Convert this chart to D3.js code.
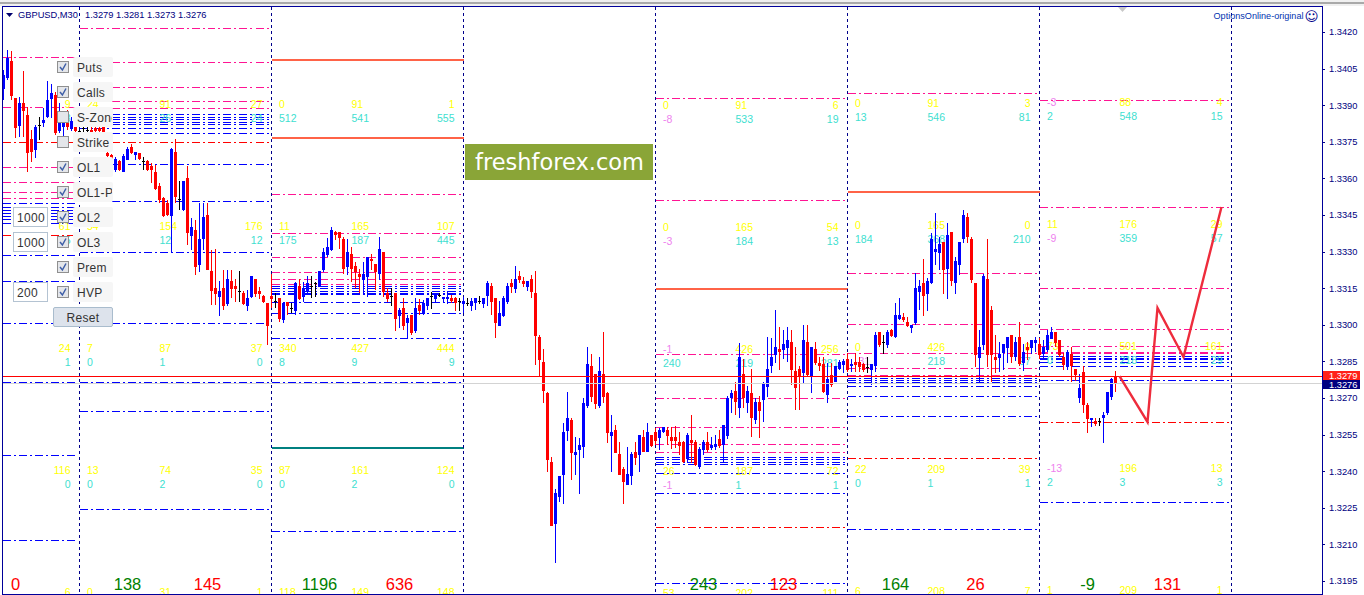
<!DOCTYPE html>
<html><head><meta charset="utf-8">
<script src="https://cdn.jsdelivr.net/npm/d3@7"></script>
<style>html,body{margin:0;padding:0;background:#fff;overflow:hidden}svg{display:block}</style>
</head><body><div id="chart"></div>
<script>
// All prices are in points above 1.3000 (1 point = 0.0001). Candles are [open, high, low, close].
const candlesFri=[[396.5,404.4,392.1,402.4],[401,412.6,400.3,409.2],[408.1,412.2,392.1,393.9],[393.1,393.1,376.4,380.8],[381.5,393.5,377.1,390.8],[390.8,404.1,377.1,387.6],[386,389.4,362.7,370.3],[376,379.8,366.8,370.5],[371.6,381.9,368.2,380.9],[381.9,385.3,375.7,381.9],[382.6,388.7,381.2,383.9],[385,399.9,384.6,392.1],[392.5,398.5,384.6,394.8],[394.2,395.5,377.8,378.7],[379.4,390.8,378.5,382.8],[381,385,377,383.5],[383,388,380,381],[380.5,385,379.5,383.7],[381.2,381.5,378,379.6]];
const candlesMon=[[379.5,380,378,379.5],[380.5,382,378.5,380.5],[380,382,378,380],[380,381,379,379.3],[380.8,381.5,378,379.4],[380.8,381.2,378,379.5],[381.2,381.5,376,379.1],[370.6,375,368.5,369.3],[369.6,370,361,363.4],[363.4,368.9,362.7,367.8],[367.1,367.5,363,363.4],[362.7,369.9,362.7,369.2],[367.5,373,367.5,372],[373,374.1,370,370.5],[369.6,370.9,367.5,370.7],[370.3,370.6,367.5,367.8],[367.1,368.9,363.4,367.1],[367.1,367.5,363,363.4],[365.2,366.2,358,363.4],[362.7,365.5,355.2,355.9],[356.9,358,349.8,351.1],[351.8,352.5,344,344.3],[350,351,344.5,345],[344.7,372.5,329.7,372],[370.9,376,350,352.5],[351.4,358.9,347,351.4],[347,358.9,346.5,358.9],[360.3,365.1,332.7,337.9],[336.5,343.6,330.6,340],[338.9,343,320.4,323.8],[324.5,349.8,321.8,335.2],[335.2,349.8,330.6,344.3],[345,349.8,322.5,322.5],[322,330.6,308.1,313.6],[315,330.9,308.1,312.6],[311.5,317.9,303.6,313.9],[315,322.5,306,307.7],[308.5,322.5,307.7,318.6],[317.9,322.5,310.9,314.7],[315.9,318.6,309.5,314.7],[313.9,322,309.5,313.9],[312.9,313.9,308.1,308.4],[307.7,314.3,305.8,310.9],[311.3,320,310.9,320],[318.8,318.8,311.3,312.6],[313.9,315.6,310.4,312.6],[311.8,312.2,309,309.5],[308.8,308.8,291.7,299.5]];
const candlesTue=[[311.8,320.8,306.8,310.5],[309.8,312.9,306.8,309.8],[310.9,311,301.3,302.4],[301.7,308.8,300.9,308.8],[309.5,309.5,304,307.7],[306.8,308.8,304.7,306.8],[305.7,317.7,304,317],[315.9,318.6,310.1,310.4],[311.5,317.7,309.5,315],[313.6,320,312.2,317],[315.9,320,310.9,315.9],[317,317.7,311.5,317],[315.6,322,315.3,322],[322.5,331.3,321.8,330],[328.6,335.4,327.7,331.7],[330.6,340,330.4,338.9],[337.9,338.6,334.8,336.5],[337.9,338.2,331,335.4],[335,335.9,320.8,322.7],[323.8,335,320.4,330],[329,332,317.7,322.7],[324.1,325.9,315,321.8],[320.8,322.7,312.9,319.7],[318.4,325.9,312.9,320.8],[319.7,327.9,311.5,327.9],[326.8,329,322.5,325.9],[324.9,325,314.3,321.5],[320.6,335.9,318.4,330.9],[330,330,311.5,313.6],[312.9,315,309.5,310.5],[311.8,315,307.7,311.8],[312.9,312.9,297.5,302.4],[303.7,306.8,298.8,306],[306.8,310.9,297.9,299.5],[300.7,304,294.7,302.8],[304,304,295.8,296.8],[297.5,310.9,296.8,306.8],[308.1,310.6,304,305.7],[304.4,310.1,304,308.8],[307.7,311.1,306,310.9],[311.8,313.6,306.5,311.8],[310.5,312.9,308.8,312.9],[312.2,313.2,311.5,312.2],[310.5,311.5,309.5,311.5],[310.5,314,308.5,311.5],[310.9,312.2,308.8,309.5],[310.9,311.2,305.7,308.8],[309.8,310.9,305.7,309.8]];
const candlesWed=[[308.5,311.5,304.7,309.8],[308.8,310.9,307.7,308.8],[307.7,310.9,305.7,309.8],[308.8,311.1,306,310.9],[309.9,311.8,308.4,309.9],[308.5,311.1,306.8,311.1],[311.5,317.9,307.7,317],[315.9,317,304,309.5],[310.9,310.9,294.7,300.6],[299.5,309.8,299.5,304.7],[303.8,311.8,303.3,311.1],[309.5,317,308.5,315.9],[317,318.8,312.9,315.4],[314.5,324.1,312.9,318.8],[320,322,317,318.4],[317.9,319.7,315.4,316.7],[315.4,317.9,313.9,317.9],[318.8,320.4,310.9,313.6],[312.9,322,283.5,295.4],[295.1,295.8,278.8,285.6],[284.6,290,268,272.6],[271.9,272.6,239.8,244.6],[243.9,245.9,217.5,217.5],[218.3,232.7,202.5,231.2],[229.5,238,227.5,238],[238.4,259.6,226.5,255.9],[256.4,272.6,252.5,261.6],[261,261.9,236.4,247.6],[246.6,254.1,238.4,248],[248.7,253.7,230.6,250.7],[249.6,269.9,245.5,267.8],[266.8,291,266,284],[283.1,288,268.5,270.5],[279.7,280,265.5,267.5],[266.7,286.6,265.7,281],[279.8,297.2,267.8,270.5],[272.2,272.5,251.7,255.8],[254.5,263,239.8,256.2],[256.9,258.9,247.3,247.6],[246.9,252,238.4,238.4],[240.9,241.8,226.5,235.4],[234.3,250,234.3,238.8],[237.7,248,234.3,246.9],[247.7,251.8,242.5,245.2],[246.6,254.8,239.8,254.8],[254.1,256.9,247.7,248],[247.7,259.6,247.7,255.9],[254.8,254.8,250,250.3]];
const candlesThu=[[255.9,257.5,250.7,252.4],[253.7,257.5,248.7,256.9],[255.8,258,255.5,258],[256.9,258,250.7,254.5],[254.1,258,249.3,252.4],[254.1,258.6,249.6,252.4],[252,255.9,246.6,250.4],[252,252.5,243.2,243.9],[245,255.5,243.5,254.8],[252.8,263,243.2,251.4],[252,252.8,242.2,242.5],[241.8,250,240.9,249.1],[248.7,252.8,246.5,252],[252,256.2,248,248.7],[249.3,254,248.5,250.7],[249.6,254.8,248.5,251],[253,257,249.5,250.3],[250.7,258.9,243.9,258.9],[254.1,271,253,269.8],[270.3,273.2,264,272.2],[273,276.7,263,268.5],[266,292.7,262,287],[280,286,266,270],[268,275,264,273],[272.2,282,254,262],[261,270,259.5,268.5],[268.5,271,253.7,265],[269.2,276.7,260.3,275.7],[274.6,295.2,270.5,281.9],[282.9,294.5,280.1,286.7],[287.6,306,284.2,290.9],[290,299.3,281.5,288.6],[289.7,297.9,285.9,292.1],[290.4,299.3,284.6,293.8],[292.8,297.9,275.3,281.5],[281,291,265,274],[282,283,265,279],[280.1,299.9,276,293.8],[292.8,299.9,278.7,279.4],[278.7,290.9,272,290.9],[290,293,283.5,284.2],[284.2,287,281,282.9],[283.9,287,272,272.6],[271.2,284.2,268,277.6],[279.4,284.2,274.7,275.3],[276.7,283.2,276.4,283.2],[282.2,285.6,281.5,284.9],[283.5,285.9,280.1,285.2]];
const candlesFri2=[[285.9,288.3,280.8,281.5],[282.9,285.9,280.8,283.9],[284.9,288.3,280.8,283.5],[284.9,287,280.8,282.9],[283.9,284.2,280.8,281.5],[282.9,286.7,280.1,282.9],[281.5,283.9,275.3,283.9],[282.9,297.2,280.8,295.8],[297,297,291,291.7],[292.8,295.8,287.9,292.8],[291.7,297.9,290.6,297],[297.9,298.1,295.1,295.4],[295,308.8,294.7,304],[302.4,310.9,302,304],[303,304.7,301,301.7],[301.3,303.3,299,299.5],[298.7,299.9,296.8,299.9],[300.6,321.1,299.9,315.1],[313.6,318.4,306,315.9],[317,326.8,303.6,311.5],[312.9,319,305.6,318.1],[317,337.5,316.7,335],[329.6,345.7,324.5,330.9],[329.6,336.1,322.5,333.1],[334,334,312.5,322.5],[322.7,341.6,310.6,336.8],[337.9,337.9,315.9,317.7],[317,327.9,312.5,326.2],[324.5,334,320.4,334],[335,347,333.4,345],[344,345.7,333.4,335.7],[335,335.9,317,318.4],[317,317.2,282.9,287.6],[286.5,297.9,276.7,290.9],[291.7,320.8,289.7,320],[318.8,335,282.9,287.6],[306,307.7,276.7,287.6],[286.9,295.8,280.1,285.6],[286.5,293,280.8,288],[288.3,292,281.5,292],[290.4,295.1,284.2,294.9],[295.8,295.8,284.2,286.7],[287,295,285,293],[295.1,301.3,283,284.2],[284.5,292,281,289],[291,293,285.6,289.7],[290.4,293.8,288,293.8],[292.7,295.1,289,293.8]];
const candlesMon2=[[292,294.5,286,287.6],[288.3,293.8,286.3,291],[289.7,297.9,288.8,295.8],[294.5,299.2,294,297.2],[296.9,297,291,292.4],[293.8,293.8,287,287.6],[286.9,288.3,281.5,283.5],[282.9,289.7,281.5,289],[288,291,276.7,282.9],[281.9,282,277,279.4],[270,280,268,274],[280.8,283,264,267.1],[267.1,267.8,255.8,261.4],[260.6,262,258.2,261.6],[260.5,261.6,258.6,259.2],[260.7,261.6,258.6,260.7],[261.6,264.4,251.7,263],[263.9,272.5,263,272.5],[270.4,278,269,277.8],[279,281,272.6,276]];

const forecastBars=[279,286,288.5,295,304.5];
const forecastPoints=[279,260.2,306.9,286.8,348.3];

const sessionBars=[[-29,19],[19,67],[67,115],[115,163],[163,211],[211,259],[259,307]];

const pinkLevels=[[409.7,389.3,364.7,358.5,354.4,352],[421.6,407.7,397.4,391.7,388.8],[353.6,337.6,327.8,321.6,318.7,316.7],[],[392.9,351.1,288,270,258.1,251.1,247.8],[395,321.2,300.3,288.4,282.3,279.4],[392.1,348.3,315.1,298.3,291.3,288.8,288.4]];
const blueLevels=[[349.9,348.3,347,345.8,344.6,343.3,341.7,328.6,317.9,300.7,276.5,246.6,211.8],[386.4,385.1,384.3,383.1,382.3,380.6,378.6,365.9,350.7,329.8,300.7,276.5,264.7,224.5],[315.9,315,313.8,313,312.6,309.3,304.8,294.6,276.5,215.5],[],[245.8,245,243.8,242.9,239.2,231,194.2],[278.2,277.3,276.5,274.9,270.8,262.6,216.3],[287.2,286.4,285.9,284.7,283.1,277.3,227.4]];
const redLevels=[[374.9,336.8],[374.9],[],[],[217.1],[245.4],[260.1]];
const tomatoLevels=[[],[],[408.9,377],[],[315.1],[354.8],[]];
const tealLevels=[[],[],[249.9],[],[],[],[]];

const strikes=[390,340,290,240,190];
const callsLeft=[null,[24,54,7,13,0],[0,11,340,87,118],null,[0,0,-1,26,53],[0,0,0,22,6],[-3,11,73,-13,1]];
const callsMid=[null,[91,154,87,74,31],[91,165,427,161,149],null,[91,165,426,187,202],[91,165,426,209,208],[88,176,501,196,209]];
const callsRight=[[9,61,24,116,6],[27,176,37,35,1],[1,107,444,124,148],null,[6,54,256,72,111],[3,0,0,39,7],[4,29,161,13,1]];
const putsLeft=[null,[null,null,0,0],[512,175,8,0],null,[-8,-3,240,-1],[13,184,-31,0],[2,-9,0,2]];
const putsMid=[null,[26,12,1,2],[541,187,9,2],null,[533,184,219,1],[546,368,218,1],[548,359,218,3]];
const putsRight=[[8,5,1,0],[24,12,0,0],[555,445,9,0],null,[19,13,281,1],[81,210,97,1],[15,57,29,3]];
const greenTotals=[null,"138","1196",null,"243","164","-9"];
const redTotals=["0","145","636",null,"123","26","131"];

const priceTicks=[1.3420,1.3405,1.3390,1.3375,1.3360,1.3345,1.3330,1.3315,1.3300,1.3285,1.3270,1.3255,1.3240,1.3225,1.3210,1.3195];
const askPrice=1.3279, bidPrice=1.3276;
const headerText="GBPUSD,M30", ohlcText="1.3279 1.3281 1.3273 1.3276";
const panelNames=["Puts","Calls","S-Zone","Strike","OL1","OL1-P","OL2","OL3","Prem","HVP"];
const panelChecked=[1,1,0,0,1,1,1,1,1,1];
const panelInputs=[["1000",6],["1000",7],["200",9]];

const W=1364,H=595;
const svg=d3.select("#chart").append("svg").attr("width",W).attr("height",H).attr("viewBox",[0,0,W,H]);
const x=d3.scaleLinear().domain([0,307]).range([3.5,1231.5]);
const y=d3.scaleLinear().domain([1.3195,1.3420]).range([581,32]);
const pr=p=>1.3+p/1e4;
const yr=p=>Math.round(y(pr(p)))+0.5;
const FONT="'Liberation Sans',Arial,sans-serif";

svg.append("rect").attr("width",W).attr("height",H).attr("fill","#fff");
// top chrome
svg.append("rect").attr("width",W).attr("height",6).attr("fill","#f0f0f0");
svg.append("rect").attr("y",2).attr("width",W).attr("height",2).attr("fill","#a9a9a9");

const clip=svg.append("defs");
clip.append("clipPath").attr("id","plot").append("rect").attr("x",3).attr("y",7).attr("width",1319).attr("height",587);
clip.append("clipPath").attr("id","lbl").append("rect").attr("x",73).attr("y",0).attr("width",39).attr("height",400);
const plot=svg.append("g").attr("clip-path","url(#plot)");

// session separators
const DAY="#00008b";
const levelG=plot.append("g").attr("shape-rendering","crispEdges");
function levels(list,i,color,w,dash,inset){
  const [a,b]=sessionBars[i];
  const x0=Math.max(x(a),3), x1=x(b)-inset;
  levelG.append("g").selectAll("line").data(list).join("line")
    .attr("x1",x0).attr("x2",x1).attr("y1",d=>yr(d)).attr("y2",d=>yr(d))
    .attr("stroke",color).attr("stroke-width",w).attr("stroke-dasharray",dash);
}
sessionBars.forEach((s,i)=>{
  levels(pinkLevels[i],i,"#ff1493",1,"8 3 2 3",3);
  levels(blueLevels[i],i,"#0000ff",1,"8 3 2 3",3);
  levels(redLevels[i],i,"#ff0000",1,"8 3 2 3",3);
  levels(tomatoLevels[i],i,"#ff6347",2,null,0);
  levels(tealLevels[i],i,"#008080",2,null,0);
});

// numbers at strikes
const textG=plot.append("g").attr("font-family",FONT).attr("font-size",10.5);
const dayShift=[0,0,0,0,1,-1,-2];
const numColor=(v,base)=>v<0?"#ee82ee":base;
function strikeText(values,i,xp,anchor,base,dy){
  if(!values) return;
  const rows=values.map((v,k)=>[v,k]).filter(d=>d[0]!==null);
  textG.append("g").selectAll("text").data(rows).join("text")
    .attr("x",xp).attr("y",d=>y(pr(strikes[d[1]]))+dy+dayShift[i])
    .attr("text-anchor",anchor).attr("fill",d=>numColor(d[0],base)).text(d=>d[0]);
}
sessionBars.forEach((s,i)=>{
  const x0=x(s[0])-0.5,x1=x(s[1])-0.5;
  strikeText(callsLeft[i],i,x0+8,"start","#ffff00",3);
  strikeText(callsMid[i],i,x0+80.5,"start","#ffff00",3);
  strikeText(callsRight[i],i,x1-8.5,"end","#ffff00",3);
  strikeText(putsLeft[i],i,x0+8,"start","#40e0d0",17);
  strikeText(putsMid[i],i,x0+80.5,"start","#40e0d0",17);
  strikeText(putsRight[i],i,x1-8.5,"end","#40e0d0",17);
  [[greenTotals[i],"#008000",48.5],[redTotals[i],"#ff0000",128.5]].forEach(([t,c,o])=>{
    if(t!==null) plot.append("text").attr("x",x0+o).attr("y",590).attr("text-anchor","middle")
      .attr("font-family",FONT).attr("font-size",16.5).attr("fill",c).text(t);
  });
});

// session lines
plot.append("g").attr("shape-rendering","crispEdges").selectAll("line").data(sessionBars.slice(1).map(d=>d[0]).concat([307])).join("line")
  .attr("x1",d=>x(d)).attr("x2",d=>x(d)).attr("y1",7).attr("y2",594)
  .attr("stroke",DAY).attr("stroke-width",1).attr("stroke-dasharray","3 3");

// candles
const candles=[].concat(candlesFri,candlesMon,candlesTue,candlesWed,candlesThu,candlesFri2,candlesMon2);
const cColor=d=>d[3]>d[0]?"#0000ff":d[3]<d[0]?"#ff0000":"#000000";
const cg=plot.append("g").attr("shape-rendering","crispEdges");
const cs=cg.selectAll("g").data(candles).join("g");
cs.append("line").attr("x1",(d,i)=>x(i)).attr("x2",(d,i)=>x(i))
  .attr("y1",d=>Math.round(y(pr(d[1])))).attr("y2",d=>Math.round(y(pr(d[2]))))
  .attr("stroke",cColor);
cs.append("rect").attr("x",(d,i)=>x(i)-1.5).attr("width",3)
  .attr("y",d=>Math.round(y(pr(Math.max(d[0],d[3])))))
  .attr("height",d=>d[0]===d[3]?1:Math.max(2,Math.round(Math.abs(y(pr(d[0]))-y(pr(d[3]))))))
  .attr("fill",cColor);

// current prices
plot.append("line").attr("x1",3).attr("x2",1322).attr("y1",Math.round(y(bidPrice))+0.5).attr("y2",Math.round(y(bidPrice))+0.5)
  .attr("stroke","#d3d3d3").attr("shape-rendering","crispEdges");
plot.append("line").attr("x1",3).attr("x2",1322).attr("y1",Math.round(y(askPrice))+0.5).attr("y2",Math.round(y(askPrice))+0.5)
  .attr("stroke","#ff0000").attr("shape-rendering","crispEdges");

// forecast
plot.append("path").datum(forecastBars.map((b,i)=>[b,forecastPoints[i]]))
  .attr("d",d3.line().x(d=>x(d[0])).y(d=>y(pr(d[1])))).attr("fill","none")
  .attr("stroke","#ee2c3c").attr("stroke-width",2.4);

// header
svg.append("path").attr("d","M6 13h7l-3.5 4z").attr("fill","#00006e");
const hdr=svg.append("g").attr("font-family",FONT).attr("font-size",9.3).attr("fill","#000080");
hdr.append("text").attr("x",18).attr("y",18).text(headerText);
hdr.append("text").attr("x",85).attr("y",18).attr("xml:space","preserve").text(ohlcText);
hdr.append("text").attr("x",1303.5).attr("y",19).attr("text-anchor","end").attr("fill","#0033b0").attr("font-size",9.1).text("OptionsOnline-original");
hdr.append("text").attr("x",1311.5).attr("y",20.5).attr("text-anchor","middle").attr("font-family","'DejaVu Sans'").attr("font-size",13.5).attr("fill","#00008b").text("\u263A");
svg.append("path").attr("d","M1118 7h9l-4.5 5z").attr("fill","#c8c8c8");

// frame
svg.append("rect").attr("x",2.5).attr("y",6.5).attr("width",1319.5).attr("height",588).attr("fill","none").attr("stroke","#00009a").attr("stroke-width",1).attr("shape-rendering","crispEdges");

// axis
const axis=d3.axisRight(y).tickValues(priceTicks).tickFormat(d3.format(".4f")).tickSize(3).tickPadding(4);
const ag=svg.append("g").attr("transform","translate(1322,0)").call(axis);
ag.select(".domain").remove();
ag.selectAll("line").attr("stroke","#00008b").attr("shape-rendering","crispEdges");
ag.selectAll("text").attr("fill","#000080").attr("font-family",FONT).attr("font-size",9.3);

// price tags
[[askPrice,"#ff2018",371],[bidPrice,"#000080",380]].forEach(([p,c,top])=>{
  svg.append("rect").attr("x",1323).attr("y",top).attr("width",37).attr("height",9).attr("fill",c);
  svg.append("text").attr("x",1329).attr("y",top+8).attr("fill","#fff").attr("font-family",FONT).attr("font-size",9.3).text(d3.format(".4f")(p));
});

// side panel
const panel=svg.append("g").attr("font-family",FONT);
const rowY=i=>57+25*i;
panelNames.forEach((n,i)=>{
  const t=rowY(i);
  panel.append("rect").attr("x",73).attr("y",t).attr("width",40).attr("height",20).attr("rx",2).attr("fill","#f6f6f6");
  panel.append("text").attr("x",77).attr("y",t+14.5).attr("font-size",12).attr("fill","#333").attr("letter-spacing",0.3).attr("clip-path","url(#lbl)").text(n);
  panel.append("rect").attr("x",57.5).attr("y",t+4.5).attr("width",11).attr("height",11).attr("fill","#e4e6ea").attr("stroke","#8f8f8f").attr("stroke-width",1).attr("shape-rendering","crispEdges");
  if(panelChecked[i]) panel.append("path").attr("d",`M60 ${t+10}l2.4 3l3.6 -6.5`).attr("fill","none").attr("stroke","#3f5fa8").attr("stroke-width",1.5);
});
panelInputs.forEach(([v,row])=>{
  const t=rowY(row);
  panel.append("rect").attr("x",13.5).attr("y",t+0.5).attr("width",34).attr("height",19).attr("fill","#fff").attr("stroke","#b4c3d2").attr("shape-rendering","crispEdges");
  panel.append("text").attr("x",17).attr("y",t+14.5).attr("font-size",12).attr("fill","#333").attr("letter-spacing",0.3).text(v);
});
panel.append("rect").attr("x",53.5).attr("y",307.5).attr("width",59).attr("height",19).attr("rx",1.5).attr("fill","#dde3ec").attr("stroke","#a9bccd");
panel.append("text").attr("x",83).attr("y",321.5).attr("text-anchor","middle").attr("font-size",12).attr("fill","#333").attr("letter-spacing",0.3).text("Reset");

// watermark
svg.append("rect").attr("x",465).attr("y",144).attr("width",188).attr("height",36).attr("fill","#8aa537");
svg.append("text").attr("x",559.5).attr("y",170).attr("text-anchor","middle").attr("fill","#fff").attr("font-family","'DejaVu Sans'").attr("font-size",22.5).text("freshforex.com");
</script></body></html>
